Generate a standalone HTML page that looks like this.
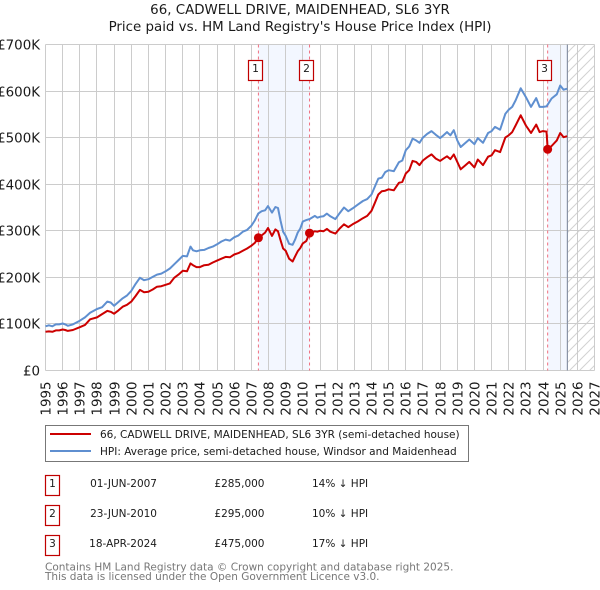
<!DOCTYPE html>
<html>
<head>
<meta charset="utf-8">
<title>66, Cadwell Drive price chart</title>
<style>
html,body{margin:0;padding:0;background:#fff;}
body{width:600px;height:590px;overflow:hidden;position:relative;font-family:"DejaVu Sans","Liberation Sans",sans-serif;}
svg{position:absolute;left:0;top:0;}
text{font-family:"DejaVu Sans","Liberation Sans",sans-serif;}
</style>
</head>
<body>
<svg id="chart" width="600" height="590" viewBox="0 0 600 590">
  <defs>
    <pattern id="hatch" patternUnits="userSpaceOnUse" width="10" height="10">
      <path d="M-2,12 L12,-2 M-2,2 L2,-2 M8,12 L12,8" stroke="#d2d2d2" stroke-width="1" fill="none"/>
    </pattern>
  </defs>
  <text x="300" y="14" text-anchor="middle" font-size="13.4" fill="#1a1a1a">66, CADWELL DRIVE, MAIDENHEAD, SL6 3YR</text>
  <text x="300" y="31" text-anchor="middle" font-size="13.4" fill="#1a1a1a">Price paid vs. HM Land Registry's House Price Index (HPI)</text>
  <g id="bands"></g>
  <g id="grid"></g>
  <g id="xticks"></g>
  <g id="yticks"></g>
  <g id="series"></g>
  <g id="sales"></g>

  <g>
    <rect x="45.5" y="425.5" width="423" height="36" fill="#fff" stroke="#777" stroke-width="1"/>
    <line x1="50" x2="91" y1="434" y2="434" stroke="#cc0000" stroke-width="2"/>
    <line x1="50" x2="91" y1="451" y2="451" stroke="#5f8fd0" stroke-width="2"/>
    <text x="100" y="438" font-size="10.5" fill="#1a1a1a">66, CADWELL DRIVE, MAIDENHEAD, SL6 3YR (semi-detached house)</text>
    <text x="100" y="455" font-size="10.5" fill="#1a1a1a">HPI: Average price, semi-detached house, Windsor and Maidenhead</text>
  </g>

  <g font-size="10.5" fill="#1a1a1a">
    <rect x="45.5" y="475.5" width="14" height="20" fill="#fff" stroke="#c00000" stroke-width="1.2"/>
    <text x="52.5" y="487" text-anchor="middle">1</text>
    <text x="157" y="487" text-anchor="end">01-JUN-2007</text>
    <text x="264.500" y="487" text-anchor="end">£285,000</text>
    <text x="312" y="487">14% ↓ HPI</text>

    <rect x="45.5" y="505.5" width="14" height="20" fill="#fff" stroke="#c00000" stroke-width="1.2"/>
    <text x="52.5" y="517" text-anchor="middle">2</text>
    <text x="157" y="517" text-anchor="end">23-JUN-2010</text>
    <text x="264.500" y="517" text-anchor="end">£295,000</text>
    <text x="312" y="517">10% ↓ HPI</text>

    <rect x="45.5" y="535.5" width="14" height="20" fill="#fff" stroke="#c00000" stroke-width="1.2"/>
    <text x="52.5" y="547" text-anchor="middle">3</text>
    <text x="157" y="547" text-anchor="end">18-APR-2024</text>
    <text x="264.500" y="547" text-anchor="end">£475,000</text>
    <text x="312" y="547">17% ↓ HPI</text>
  </g>

  <text x="45" y="570.500" font-size="10.5" fill="#777">Contains HM Land Registry data © Crown copyright and database right 2025.</text>
  <text x="45" y="580" font-size="10.5" fill="#777">This data is licensed under the Open Government Licence v3.0.</text>
</svg>
<script>
var yearTicks = [1995,1996,1997,1998,1999,2000,2001,2002,2003,2004,2005,2006,2007,2008,2009,2010,2011,2012,2013,2014,2015,2016,2017,2018,2019,2020,2021,2022,2023,2024,2025,2026,2027];
var valueTicks = [0,100,200,300,400,500,600,700];
var valueTickLabels = ['£0','£100K','£200K','£300K','£400K','£500K','£600K','£700K'];

var hpiDates = [1995,1995.2,1995.4,1995.6,1995.8,1996,1996.15,1996.3,1996.6,1997,1997.3,1997.6,1998,1998.3,1998.6,1998.8,1999,1999.25,1999.5,1999.75,2000,2000.25,2000.5,2000.75,2001,2001.25,2001.5,2001.75,2002,2002.25,2002.5,2002.75,2003,2003.25,2003.45,2003.6,2003.8,2004,2004.25,2004.5,2004.75,2005,2005.25,2005.5,2005.75,2006,2006.25,2006.5,2006.75,2007,2007.2,2007.4,2007.6,2007.8,2007.97,2008.2,2008.4,2008.55,2008.7,2008.85,2009,2009.2,2009.4,2009.55,2009.7,2009.85,2010,2010.2,2010.39,2010.7,2010.85,2011,2011.2,2011.4,2011.6,2011.9,2012.15,2012.4,2012.65,2012.9,2013.2,2013.5,2013.75,2014,2014.2,2014.4,2014.6,2014.8,2015,2015.3,2015.6,2015.8,2016,2016.2,2016.4,2016.6,2016.8,2017,2017.25,2017.5,2017.75,2018,2018.2,2018.4,2018.6,2018.8,2019,2019.2,2019.45,2019.7,2020,2020.2,2020.5,2020.8,2021,2021.2,2021.5,2021.8,2022,2022.2,2022.4,2022.7,2023,2023.3,2023.6,2023.8,2024,2024.2,2024.5,2024.8,2025,2025.2,2025.4];
var hpiValues = [95,97,95,99,99,101,99,96,99,107,114,124,132,136,148,146,139,147,155,161,171,186,199,194,196,201,206,208,213,219,228,237,246,245,266,258,256,258,259,263,266,271,277,281,279,286,290,298,302,311,322,337,342,344,353,339,351,349,322,298,289,272,270,281,296,305,320,323,325,332,328,330,331,337,331,325,338,350,342,348,356,364,368,378,395,412,414,426,430,428,447,451,473,481,498,494,489,500,508,514,506,499,505,512,505,516,494,480,488,496,486,499,489,510,514,523,517,551,560,566,580,606,587,566,585,566,566,567,584,593,612,603,605];

var priceDates = [1995,1995.2,1995.4,1995.6,1995.8,1996,1996.15,1996.3,1996.6,1997,1997.3,1997.6,1998,1998.25,1998.6,1998.8,1999,1999.25,1999.5,1999.75,2000,2000.25,2000.5,2000.75,2001,2001.25,2001.5,2001.75,2002,2002.25,2002.5,2002.75,2003,2003.25,2003.45,2003.6,2003.8,2004,2004.25,2004.5,2004.75,2005,2005.25,2005.5,2005.75,2006,2006.25,2006.5,2006.75,2007,2007.2,2007.41,2007.6,2007.8,2007.97,2008.2,2008.4,2008.55,2008.7,2008.85,2009,2009.2,2009.4,2009.55,2009.7,2009.85,2010,2010.2,2010.39,2010.7,2010.85,2011,2011.2,2011.4,2011.6,2011.9,2012.15,2012.4,2012.65,2012.9,2013.2,2013.5,2013.75,2014,2014.2,2014.4,2014.6,2014.8,2015,2015.3,2015.6,2015.8,2016,2016.2,2016.4,2016.6,2016.8,2017,2017.25,2017.5,2017.75,2018,2018.2,2018.4,2018.6,2018.8,2019,2019.2,2019.45,2019.7,2020,2020.2,2020.5,2020.8,2021,2021.2,2021.5,2021.8,2022,2022.2,2022.4,2022.7,2023,2023.3,2023.6,2023.8,2024,2024.2,2024.27,2024.5,2024.8,2025,2025.2,2025.4];
var priceValues = [83,84,83,86,86,88,87,85,87,93,98,110,114,120,128,126,122,129,137,141,148,160,173,168,169,174,180,181,184,187,199,206,214,213,230,226,222,222,226,227,232,236,240,244,243,249,252,257,262,268,274,285,290,296,306,289,303,299,280,262,257,240,234,245,256,263,273,278,295,299,298,300,299,304,298,294,305,314,308,314,320,327,332,343,360,378,385,386,389,387,403,405,423,430,450,448,441,451,458,464,455,450,455,460,454,464,448,432,440,448,436,453,441,459,462,473,469,500,505,512,526,548,526,510,528,512,514,513,475,482,494,510,501,503];

var saleDates = [2007.41,2010.39,2024.27];
var salePrices = [285,295,475];
var saleIds = ['1','2','3'];
var dataEndYear = 2025.42;

var NS = 'http://www.w3.org/2000/svg';
function xScale(year){ return 45.5 + (year - 1995) * (549 / 32); }
function yScale(value){ return 370.5 - value * (326 / 700); }
function make(tag, attrs, parent){
  var el = document.createElementNS(NS, tag);
  for (var k in attrs) el.setAttribute(k, attrs[k]);
  parent.appendChild(el);
  return el;
}
var bands = document.getElementById('bands');
var grid = document.getElementById('grid');
var xticks = document.getElementById('xticks');
var yticks = document.getElementById('yticks');
var seriesG = document.getElementById('series');
var salesG = document.getElementById('sales');

var band1 = make('rect', {x:xScale(saleDates[0]), y:yScale(700), width:xScale(saleDates[1])-xScale(saleDates[0]), height:yScale(0)-yScale(700), fill:'#f3f7ff'}, bands);


var band2 = make('rect', {x:xScale(saleDates[2]), y:yScale(700), width:xScale(dataEndYear)-xScale(saleDates[2]), height:yScale(0)-yScale(700), fill:'#f3f7ff'}, bands);


var future = make('rect', {x:xScale(dataEndYear), y:yScale(700), width:xScale(2027)-xScale(dataEndYear), height:yScale(0)-yScale(700), fill:'url(#hatch)'}, bands);



yearTicks.forEach(function(year){
  var gx = Math.round(xScale(year) - 0.5) + 0.5;
  var line = make('line', {x1:gx, x2:gx, y1:yScale(700), y2:yScale(0), stroke:'#cccccc', 'stroke-width':1}, grid);
  
  
  var label = make('text', {transform:'translate(' + (gx + 5) + ',381.5) rotate(-90)', 'text-anchor':'end', 'font-size':'13.4', fill:'#1a1a1a'}, xticks);
  
  
  label.textContent = String(year);
});
valueTicks.forEach(function(value, i){
  var gy = Math.round(yScale(value) - 0.5) + 0.5;
  var line = make('line', {x1:45.5, x2:594.5, y1:gy, y2:gy, stroke:'#cccccc', 'stroke-width':1}, grid);
  
  
  var label = make('text', {x:40, y:gy + 5, 'text-anchor':'end', 'font-size':'13.4', fill:'#1a1a1a'}, yticks);
  
  
  label.textContent = valueTickLabels[i];
});
var endLine = make('line', {x1:xScale(dataEndYear), x2:xScale(dataEndYear), y1:yScale(700), y2:yScale(0), stroke:'#8a94a6', 'stroke-width':1.2}, grid);



saleDates.forEach(function(d){
  var dash = make('line', {x1:xScale(d), x2:xScale(d), y1:yScale(700), y2:yScale(0), stroke:'#f07080', 'stroke-width':1, 'stroke-dasharray':'3,3'}, grid);
  
  
});

function linePath(dates, values){
  return dates.map(function(d, i){
    return (i ? 'L' : 'M') + xScale(d).toFixed(1) + ',' + yScale(values[i]).toFixed(1);
  }).join(' ');
}
var hpiLine = make('path', {d:linePath(hpiDates, hpiValues), fill:'none', stroke:'#5f8fd0', 'stroke-width':2, 'stroke-linejoin':'round'}, seriesG);


var priceLine = make('path', {d:linePath(priceDates, priceValues), fill:'none', stroke:'#cc0000', 'stroke-width':2, 'stroke-linejoin':'round'}, seriesG);



saleDates.forEach(function(d, i){
  var dot = make('circle', {cx:xScale(d), cy:yScale(salePrices[i]), r:4.5, fill:'#cc0000'}, salesG);
  
  
  var box = make('rect', {x:Math.floor(xScale(d) - 10) + 0.5, y:60.5, width:14, height:20, fill:'#fff', stroke:'#c00000', 'stroke-width':1.2}, salesG);
  
  
  var num = make('text', {x:Math.floor(xScale(d) - 10) + 7.5, y:72, 'text-anchor':'middle', 'font-size':'10.7', fill:'#1a1a1a'}, salesG);
  
  
  num.textContent = saleIds[i];
});
</script>
</body>
</html>
